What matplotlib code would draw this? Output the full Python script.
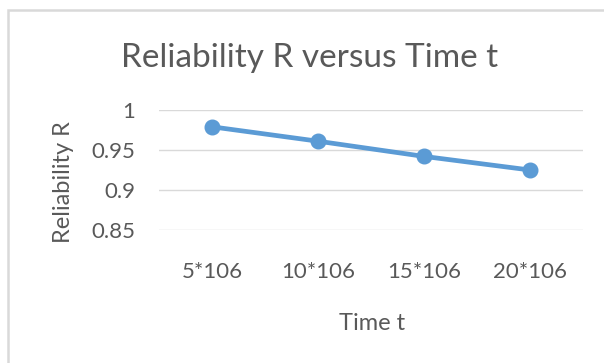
import matplotlib
matplotlib.use("Agg")
import matplotlib.pyplot as plt
from matplotlib.patches import Rectangle

categories = ["5*106", "10*106", "15*106", "20*106"]
reliability = [0.979, 0.961, 0.942, 0.925]
yticks = [0.85, 0.9, 0.95, 1.0]
ytick_labels = ["0.85", "0.9", "0.95", "1"]

plt.rcParams['font.family'] = ['Lato', 'DejaVu Sans']
W, H = 604, 363
fig = plt.figure(figsize=(W/100, H/100), dpi=100)
fig.patch.set_facecolor("white")

# outer chart border
fig.patches.append(Rectangle((8/W, -0.1), 1.2, 1 - 10/H + 0.1, transform=fig.transFigure,
                             fill=False, edgecolor="#d9d9d9", linewidth=1.8, zorder=0))

ax = fig.add_axes([159/W, 1 - 230/H, (583-159)/W, 120/H])
x = list(range(len(categories)))
ax.plot(x, reliability, color="#5B9BD5", linewidth=3.4, marker="o", markersize=10.5,
        solid_capstyle="round", zorder=3, clip_on=False)
ax.set_xlim(-0.5, len(categories) - 0.5)
ax.set_ylim(0.85, 1.0)
ax.set_yticks(yticks)
ax.set_yticklabels(ytick_labels)
ax.set_xticks(x)
ax.set_xticklabels(categories)
ax.grid(axis="y", color="#d9d9d9", linewidth=1)
ax.set_axisbelow(True)
for s in ax.spines.values():
    s.set_visible(False)
ax.tick_params(axis="both", length=0, labelsize=16, labelcolor="#595959")
ax.tick_params(axis="y", pad=17)
ax.tick_params(axis="x", pad=23)

fig.text(310/W, 1 - 58/H, "Reliability R versus Time t", ha="center", va="center",
         fontsize=24, color="#595959")
fig.text(63/W, 1 - 182/H, "Reliability R", ha="center", va="center", rotation=90,
         fontsize=17, color="#595959")
fig.text(372/W, 1 - 323/H, "Time t", ha="center", va="center",
         fontsize=17, color="#595959")

fig.savefig("out.png", dpi=100, facecolor="white")
